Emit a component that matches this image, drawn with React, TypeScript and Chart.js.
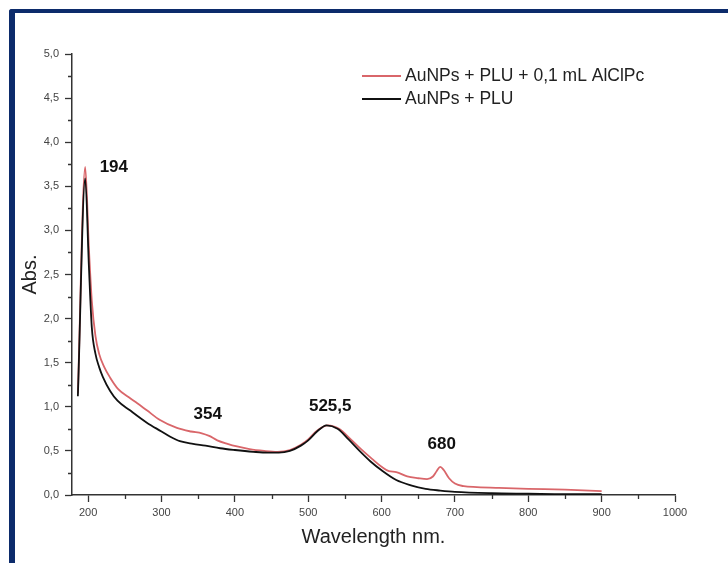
import React, { useEffect, useRef } from "react";
import { Chart, registerables } from "chart.js";
Chart.register(...registerables);

// ---- data ----
const blackWavelengths = [186, 196, 201, 205, 210, 215, 220, 230, 240, 257, 280, 300, 312, 325, 343, 360, 380, 400, 425, 445, 460, 475, 490, 500, 512, 525, 540, 555, 570, 585, 600, 620, 640, 660, 680, 700, 750, 800, 850, 900];
const blackAbs = [1.12, 3.59, 2.6, 1.9, 1.6, 1.45, 1.34, 1.18, 1.07, 0.96, 0.82, 0.72, 0.66, 0.61, 0.58, 0.56, 0.53, 0.51, 0.49, 0.48, 0.48, 0.5, 0.56, 0.62, 0.72, 0.79, 0.75, 0.63, 0.5, 0.38, 0.28, 0.17, 0.11, 0.07, 0.05, 0.035, 0.02, 0.015, 0.01, 0.01];

const redWavelengths = [186, 196, 201, 205, 210, 215, 222, 230, 241, 255, 267, 280, 298, 321, 340, 355, 365, 376, 390, 403, 420, 440, 458, 475, 490, 500, 512, 527, 542, 557, 572, 587, 600, 610, 620, 635, 650, 662, 670, 675, 680, 685, 692, 700, 712, 730, 760, 800, 850, 900];
const redAbs = [1.15, 3.72, 2.8, 2.2, 1.8, 1.6, 1.45, 1.33, 1.2, 1.11, 1.04, 0.96, 0.85, 0.76, 0.72, 0.7, 0.67, 0.62, 0.58, 0.55, 0.52, 0.5, 0.49, 0.51, 0.57, 0.63, 0.73, 0.79, 0.75, 0.64, 0.52, 0.41, 0.32, 0.27, 0.26, 0.21, 0.19, 0.18, 0.21, 0.27, 0.32, 0.28, 0.19, 0.13, 0.1, 0.09, 0.08, 0.07, 0.06, 0.045];

const seriesLabels = ["AuNPs + PLU + 0,1 mL AlClPc", "AuNPs + PLU"];
const seriesColors = ["#d9666a", "#111111"];

const peakLabels = ["194", "354", "525,5", "680"];
const peakLabelX = [235, 363, 530, 682];
const peakLabelY = [3.72, 0.92, 1.01, 0.58];

const xTitle = "Wavelength nm.";
const yTitle = "Abs.";
const xMin = 178;
const xMax = 1000;
const yMin = 0;
const yMax = 5;

const FONT = "'Liberation Sans', Arial, sans-serif";

const overlayPlugin = {
  id: "overlay",
  afterDraw(chart: any) {
    const ctx = chart.ctx;
    const xs = chart.scales.x;
    const ys = chart.scales.y;
    const area = chart.chartArea;
    ctx.save();
    // minor ticks
    ctx.strokeStyle = "#333";
    ctx.lineWidth = 1.3;
    ctx.beginPath();
    for (let v = 0.25; v < yMax; v += 0.5) {
      const py = Math.round(ys.getPixelForValue(v)) + 0.5;
      ctx.moveTo(area.left - 4, py);
      ctx.lineTo(area.left, py);
    }
    for (let v = 250; v < xMax; v += 100) {
      const px = Math.round(xs.getPixelForValue(v)) + 0.5;
      ctx.moveTo(px, area.bottom);
      ctx.lineTo(px, area.bottom + 4);
    }
    ctx.stroke();

    // peak annotations
    ctx.fillStyle = "#111";
    ctx.font = `bold 17px ${FONT}`;
    ctx.textAlign = "center";
    ctx.textBaseline = "middle";
    peakLabels.forEach((t, i) => {
      ctx.fillText(t, xs.getPixelForValue(peakLabelX[i]), ys.getPixelForValue(peakLabelY[i]));
    });

    // legend
    const lx = area.left + 290;
    const rows = [76, 99];
    ctx.font = `17.5px ${FONT}`;
    ctx.textAlign = "left";
    seriesLabels.forEach((t, i) => {
      ctx.strokeStyle = seriesColors[i];
      ctx.lineWidth = 1.8;
      ctx.beginPath();
      ctx.moveTo(lx, rows[i]);
      ctx.lineTo(lx + 39, rows[i]);
      ctx.stroke();
      ctx.fillStyle = "#222";
      ctx.fillText(t, lx + 43, rows[i]);
    });
    ctx.restore();
  },
};

export default function App() {
  const ref = useRef<HTMLCanvasElement | null>(null);
  useEffect(() => {
    if (!ref.current) return;
    const toPts = (xs: number[], ys: number[]) => xs.map((x, i) => ({ x, y: ys[i] }));
    const chart = new Chart(ref.current, {
      type: "line",
      data: {
        datasets: [
          {
            label: seriesLabels[1],
            data: toPts(blackWavelengths, blackAbs),
            borderColor: seriesColors[1],
            borderWidth: 1.8,
            pointRadius: 0,
            cubicInterpolationMode: "monotone",
          },
          {
            label: seriesLabels[0],
            data: toPts(redWavelengths, redAbs),
            borderColor: seriesColors[0],
            borderWidth: 1.8,
            pointRadius: 0,
            cubicInterpolationMode: "monotone",
          },
        ],
      },
      options: {
        animation: false,
        responsive: false,
        maintainAspectRatio: false,
        layout: { padding: { left: 0, top: 54, right: 53, bottom: 0 } },
        plugins: { legend: { display: false }, tooltip: { enabled: false } },
        scales: {
          x: {
            type: "linear",
            min: xMin,
            max: xMax,
            afterFit: (s: any) => { s.height = 68; },
            ticks: {
              stepSize: 100,
              includeBounds: false,
              color: "#444",
              font: { family: FONT, size: 11 },
              padding: 4,
              maxRotation: 0,
              callback: (v: any) => String(v),
            },
            grid: { display: true, drawOnChartArea: false, drawTicks: true, tickLength: 7, tickColor: "#333", tickWidth: 1.3 },
            border: { display: true, color: "#333", width: 1.5 },
            title: { display: true, text: xTitle, color: "#222", font: { family: FONT, size: 20 }, padding: { top: 0, bottom: 14 } },
          },
          y: {
            type: "linear",
            min: yMin,
            max: yMax,
            afterFit: (s: any) => { s.width = 72; },
            ticks: {
              stepSize: 0.5,
              color: "#444",
              font: { family: FONT, size: 11 },
              padding: 6,
              callback: (v: any) => Number(v).toFixed(1).replace(".", ","),
            },
            grid: { display: true, drawOnChartArea: false, drawTicks: true, tickLength: 7, tickColor: "#333", tickWidth: 1.3 },
            border: { display: true, color: "#333", width: 1.5 },
            title: { display: true, text: yTitle, color: "#222", font: { family: FONT, size: 20 }, padding: { top: 18, bottom: 0 } },
          },
        },
      },
      plugins: [overlayPlugin],
    } as any);
    return () => chart.destroy();
  }, []);

  return (
    <div style={{ position: "absolute", left: 0, top: 0, width: 728, height: 563, background: "#fff", overflow: "hidden" }}>
      <div
        style={{
          position: "absolute",
          left: 9,
          top: 9,
          width: 800,
          height: 700,
          borderTop: "4px solid #0c2b6b",
          borderLeft: "6px solid #0c2b6b",
          borderTopLeftRadius: 3,
        }}
      />
      <canvas ref={ref} width={728} height={563} style={{ position: "absolute", left: 0, top: 0, width: 728, height: 563 }} />
    </div>
  );
}
